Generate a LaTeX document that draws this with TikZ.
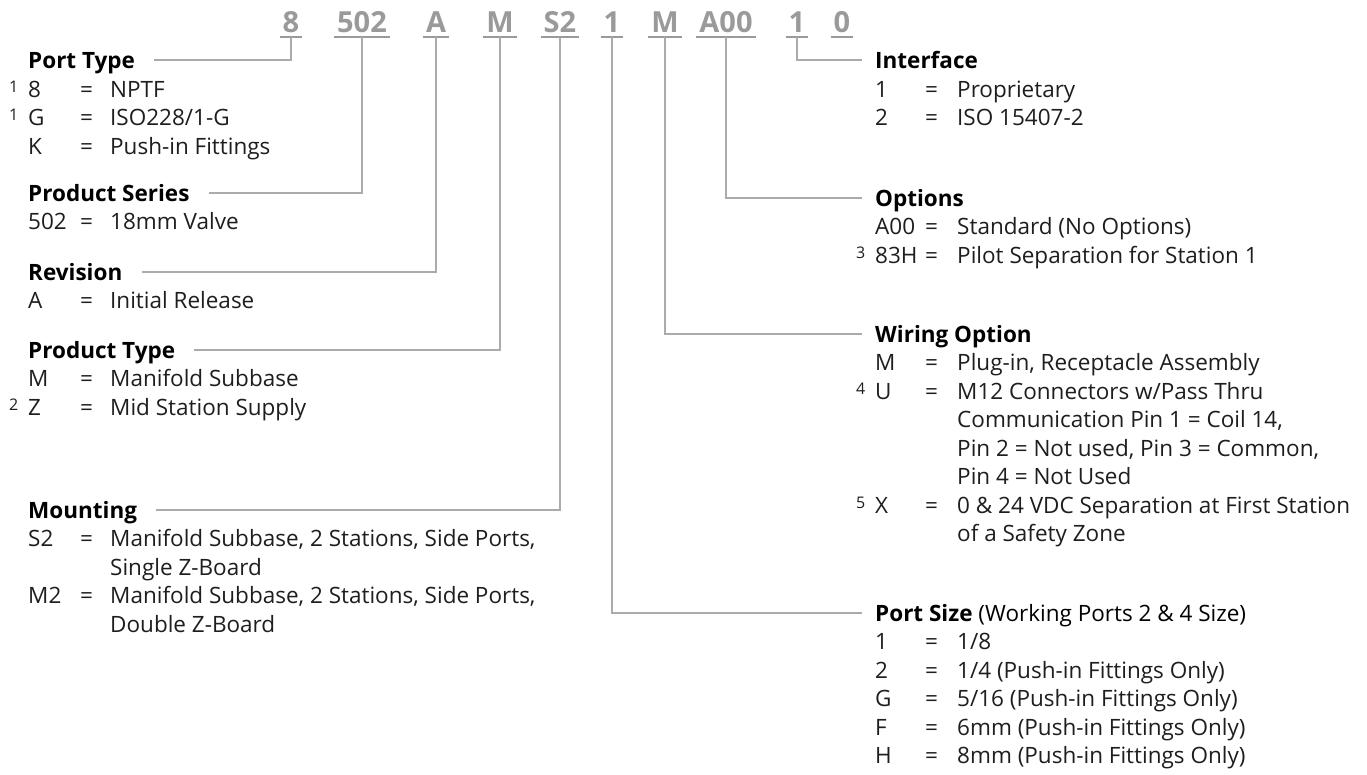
\documentclass[tikz,border=0pt]{standalone}
\usepackage{fontspec}
\setmainfont{Open Sans}
\definecolor{codegray}{HTML}{9A9A9A}
\definecolor{linegray}{HTML}{ABABAB}
\definecolor{txtc}{HTML}{1E1E1E}
\tikzset{
  txt/.style={anchor=base west, inner sep=0pt, font=\fontsize{22.5}{28.5}\selectfont, text=txtc},
  hdr/.style={anchor=base west, inner sep=0pt, font=\fontsize{22.5}{28.5}\selectfont\bfseries, text=black, text height=16pt, text depth=0pt},
  supnum/.style={anchor=base west, inner sep=0pt, font=\fontsize{16}{18}\selectfont, text=txtc},
  codetxt/.style={anchor=base, inner xsep=3pt, inner ysep=0pt, text depth=0pt, font=\fontsize{29}{34}\selectfont\bfseries, text=codegray},
  uline/.style={draw=codegray, line width=2pt},
  leader/.style={draw=linegray, line width=1.3pt},
}
% left row: name, baseline, code, description
\newcommand{\lrow}[4]{%
  \node[txt] (#1c) at (28,#2) {#3};
  \node[txt] (#1e) at (80,#2) {=};
  \node[txt] (#1d) at (110,#2) {#4};}
\newcommand{\rrow}[4]{%
  \node[txt] (#1c) at (875,#2) {#3};
  \node[txt] (#1e) at (925,#2) {=};
  \node[txt] (#1d) at (957,#2) {#4};}
\begin{document}
\begin{tikzpicture}[x=1pt,y=-1pt]
\fill[white] (0,0) rectangle (1367,774);
\useasboundingbox (0,0) rectangle (1367,774);

% code row
\node[codetxt] (c1) at (291,32) {8};
\node[codetxt] (c2) at (362,32) {502};
\node[codetxt] (c3) at (436,32) {A};
\node[codetxt] (c4) at (500,32) {M};
\node[codetxt] (c5) at (560,32) {S2};
\node[codetxt] (c6) at (612,32) {1};
\node[codetxt] (c7) at (665,32) {M};
\node[codetxt] (c8) at (726,32) {A00};
\node[codetxt] (c9) at (797,32) {1};
\node[codetxt] (c10) at (842,32) {0};
\foreach \n in {c1,c2,c3,c4,c5,c6,c7,c8,c9,c10}
  \draw[uline] ([yshift=-4.5pt]\n.south west) -- ([yshift=-4.5pt]\n.south east);

% ---------- left column ----------
\node[hdr] (hPT) at (28,68) {Port Type};
\node[supnum] (s1a) at (9,92) {1};
\lrow{pt1}{97}{8}{NPTF}
\node[supnum] (s1b) at (9,120.5) {1};
\lrow{pt2}{125.5}{G}{ISO228/1-G}
\lrow{pt3}{154}{K}{Push-in Fittings}

\node[hdr] (hPS) at (28,201) {Product Series};
\lrow{ps1}{229.5}{502}{18mm Valve}

\node[hdr] (hRV) at (28,280) {Revision};
\lrow{rv1}{308.5}{A}{Initial Release}

\node[hdr] (hPR) at (28,358) {Product Type};
\lrow{pr1}{386.5}{M}{Manifold Subbase}
\node[supnum] (s2) at (9,410) {2};
\lrow{pr2}{415}{Z}{Mid Station Supply}

\node[hdr] (hMT) at (28,518) {Mounting};
\lrow{mt1}{546.5}{S2}{Manifold Subbase, 2 Stations, Side Ports,}
\node[txt] (mt1x) at (110,575) {Single Z-Board};
\lrow{mt2}{603.5}{M2}{Manifold Subbase, 2 Stations, Side Ports,}
\node[txt] (mt2x) at (110,632) {Double Z-Board};

% ---------- right column ----------
\node[hdr] (hIF) at (875,68) {Interface};
\rrow{if1}{97}{1}{Proprietary}
\rrow{if2}{125.5}{2}{ISO 15407-2}

\node[hdr] (hOP) at (875,206) {Options};
\rrow{op1}{234.5}{A00}{Standard (No Options)}
\node[supnum] (s3) at (856,258) {3};
\rrow{op2}{263}{83H}{Pilot Separation for Station 1}

\node[hdr] (hWO) at (875,342) {Wiring Option};
\rrow{wo1}{370.5}{M}{Plug-in, Receptacle Assembly}
\node[supnum] (s4) at (856,394) {4};
\rrow{wo2}{399}{U}{M12 Connectors w/Pass Thru}
\node[txt] (wo2x) at (957,427.5) {Communication Pin 1 = Coil 14,};
\node[txt] (wo2y) at (957,456) {Pin 2 = Not used, Pin 3 = Common,};
\node[txt] (wo2z) at (957,484.5) {Pin 4 = Not Used};
\node[supnum] (s5) at (856,508) {5};
\rrow{wo3}{513}{X}{0 \& 24 VDC Separation at First Station}
\node[txt] (wo3x) at (957,541.5) {of a Safety Zone};

\node[hdr] (hPZ) at (875,621) {Port Size\mdseries\ (Working Ports 2 \& 4 Size)};
\rrow{pz1}{649.5}{1}{1/8}
\rrow{pz2}{678}{2}{1/4 (Push-in Fittings Only)}
\rrow{pz3}{706.5}{G}{5/16 (Push-in Fittings Only)}
\rrow{pz4}{735}{F}{6mm (Push-in Fittings Only)}
\rrow{pz5}{763.5}{H}{8mm (Push-in Fittings Only)}

% ---------- leaders ----------
\draw[leader] ([yshift=-4.5pt]c1.south) |- ([xshift=19pt]hPT.east);
\draw[leader] ([yshift=-4.5pt]c2.south) |- ([xshift=19pt]hPS.east);
\draw[leader] ([yshift=-4.5pt]c3.south) |- ([xshift=19pt]hRV.east);
\draw[leader] ([yshift=-4.5pt]c4.south) |- ([xshift=19pt]hPR.east);
\draw[leader] ([yshift=-4.5pt]c5.south) |- ([xshift=19pt]hMT.east);
\draw[leader] ([yshift=-4.5pt]c6.south) |- ([xshift=-13pt]hPZ.west);
\draw[leader] ([yshift=-4.5pt]c7.south) |- ([xshift=-13pt]hWO.west);
\draw[leader] ([yshift=-4.5pt]c8.south) |- ([xshift=-13pt]hOP.west);
\draw[leader] ([yshift=-4.5pt]c9.south) |- ([xshift=-13pt]hIF.west);
\end{tikzpicture}
\end{document}
